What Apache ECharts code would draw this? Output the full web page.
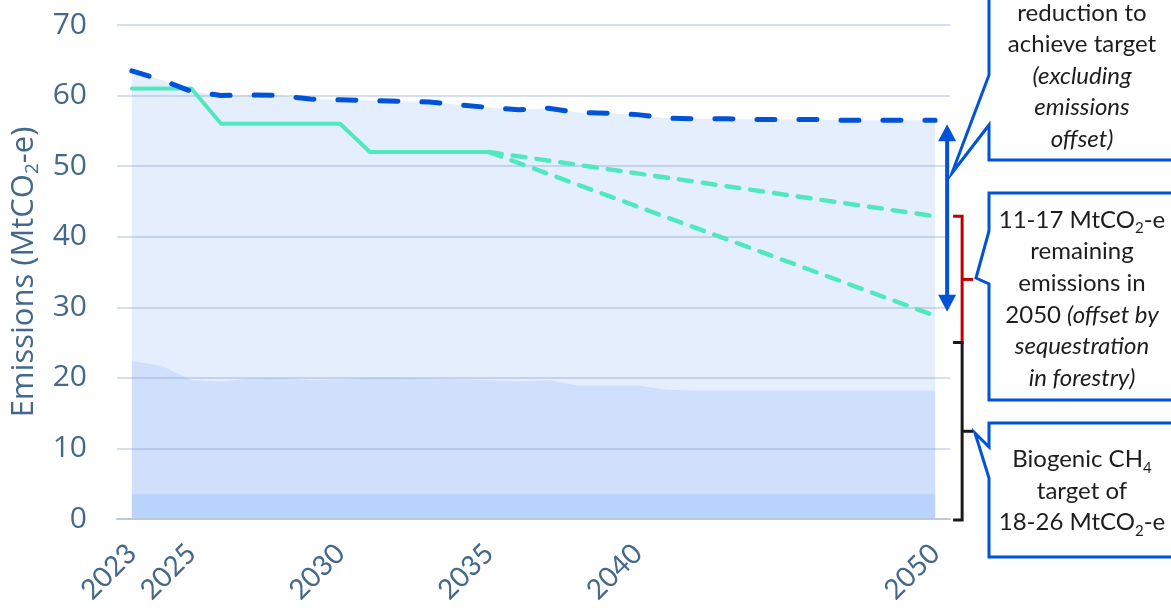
<!DOCTYPE html>
<html>
<head>
    <meta charset="UTF-8">
    <title>Emissions pathway to 2050</title>
    <script src="https://cdn.jsdelivr.net/npm/echarts@6/dist/echarts.min.js"></script>
    <style>
        html, body {
            margin: 0;
            padding: 0;
            background: #fff;
        }

        #chart {
            width: 1171px;
            height: 608px;
        }
    </style>
</head>
<body>
    <div id="chart"></div>

    <script>
        // categories
        const years = ['2023', '2024', '2025', '2026', '2027', '2028', '2029', '2030', '2031', '2032',
            '2033', '2034', '2035', '2036', '2037', '2038', '2039', '2040', '2041', '2042',
            '2043', '2044', '2045', '2046', '2047', '2048', '2049', '2050'];
        const labelYears = ['2023', '2025', '2030', '2035', '2040', '2050'];

        // projected emissions (blue dashed line and light area)
        const projected = [63.5, 62.2, 60.6, 60.0, 60.1, 60.0, 59.5, 59.4, 59.3, 59.2,
            59.1, 58.7, 58.3, 58.0, 58.2, 57.6, 57.5, 57.3, 56.8, 56.7,
            56.7, 56.6, 56.6, 56.6, 56.5, 56.5, 56.5, 56.5];
        // biogenic methane band (middle area)
        const biogenic = [22.4, 21.7, 19.7, 19.5, 19.9, 20.0, 19.7, 19.8, 20.0, 20.0,
            19.9, 19.8, 19.7, 19.5, 19.7, 18.9, 18.9, 18.9, 18.3, 18.2,
            18.2, 18.2, 18.2, 18.2, 18.2, 18.2, 18.2, 18.2];
        // bottom band
        const baseBand = [3.5, 3.5, 3.5, 3.5, 3.5, 3.5, 3.5, 3.5, 3.5, 3.5,
            3.5, 3.5, 3.5, 3.5, 3.5, 3.5, 3.5, 3.5, 3.5, 3.5,
            3.5, 3.5, 3.5, 3.5, 3.5, 3.5, 3.5, 3.5];
        // emissions budgets (green solid) and the two pathways after 2035 (green dashed)
        const budgets = [61, 61, 61, 56, 56, 56, 56, 56, 52, 52, 52, 52, 52,
            null, null, null, null, null, null, null, null, null, null, null, null, null, null, null];
        const pathHigh = [null, null, null, null, null, null, null, null, null, null, null, null, 52,
            null, null, null, null, null, null, null, null, null, null, null, null, null, null, 42.9];
        const pathLow = [null, null, null, null, null, null, null, null, null, null, null, null, 52,
            null, null, null, null, null, null, null, null, null, null, null, null, null, null, 28.8];
        // split between the two brackets at 2050
        const bracketSplit = 25;

        const axisColor = '#44688c';
        const blue = '#0052d9';
        const green = '#52e8bf';
        const textFont = 'Lato, "Open Sans", sans-serif';

        const chart = echarts.init(document.getElementById('chart'));

        const option = {
            animation: false,
            grid: {
                left: 117,
                right: 221,
                top: 25,
                bottom: 89,
                outerBoundsMode: 'none'
            },
            xAxis: {
                type: 'category',
                data: years,
                boundaryGap: true,
                z: 3,
                axisTick: { show: false },
                axisLine: {
                    lineStyle: { color: '#bfc8d5', width: 2 }
                },
                axisLabel: {
                    interval: function (idx, val) {
                        return labelYears.indexOf(val) >= 0;
                    },
                    rotate: 45,
                    margin: 30,
                    color: axisColor,
                    fontSize: 28,
                    fontFamily: textFont
                }
            },
            yAxis: {
                type: 'value',
                min: 0,
                max: 70,
                interval: 10,
                z: 3,
                axisLine: { show: false },
                axisTick: { show: false },
                axisLabel: {
                    margin: 30,
                    color: axisColor,
                    fontSize: 30,
                    fontFamily: '"Open Sans", sans-serif'
                },
                splitLine: {
                    lineStyle: { color: 'rgba(120,150,195,0.3)', width: 2 }
                },
                name: '{n|Emissions (MtCO}{s|2}{n|-e)}',
                nameLocation: 'middle',
                nameGap: 71,
                nameTextStyle: {
                    rich: {
                        n: {
                            fontSize: 31,
                            lineHeight: 36,
                            color: axisColor,
                            fontFamily: '"Open Sans", sans-serif'
                        },
                        s: {
                            fontSize: 19,
                            lineHeight: 19,
                            verticalAlign: 'bottom',
                            color: axisColor,
                            fontFamily: '"Open Sans", sans-serif'
                        }
                    }
                }
            },
            series: [
                {
                    name: 'Projected area',
                    type: 'line',
                    data: projected,
                    symbol: 'none',
                    z: 1,
                    lineStyle: { width: 0 },
                    areaStyle: { color: '#e5eefd', opacity: 1 }
                },
                {
                    name: 'Biogenic',
                    type: 'line',
                    data: biogenic,
                    symbol: 'none',
                    z: 1,
                    lineStyle: { width: 0 },
                    areaStyle: { color: '#d0e0fc', opacity: 1 }
                },
                {
                    name: 'Base',
                    type: 'line',
                    data: baseBand,
                    symbol: 'none',
                    z: 1,
                    lineStyle: { width: 0 },
                    areaStyle: { color: '#b9d3fc', opacity: 1 }
                },
                {
                    name: 'Budgets',
                    type: 'line',
                    data: budgets,
                    symbol: 'none',
                    z: 5,
                    lineStyle: { color: green, width: 4, cap: 'round', join: 'round' }
                },
                {
                    name: 'Pathway high',
                    type: 'line',
                    data: pathHigh,
                    connectNulls: true,
                    symbol: 'none',
                    z: 5,
                    lineStyle: { color: green, width: 4.5, type: [13, 11], cap: 'round' }
                },
                {
                    name: 'Pathway low',
                    type: 'line',
                    data: pathLow,
                    connectNulls: true,
                    symbol: 'none',
                    z: 5,
                    lineStyle: { color: green, width: 4.5, type: [13, 11], cap: 'round' }
                },
                {
                    name: 'Projected',
                    type: 'line',
                    data: projected,
                    symbol: 'none',
                    z: 6,
                    lineStyle: { color: blue, width: 5, type: [18, 24], cap: 'round', join: 'round' }
                }
            ]
        };

        chart.setOption(option);

        // annotations at the right of 2050, placed through the chart's own scales
        const last = years.length - 1;
        const xEnd = chart.convertToPixel({ xAxisIndex: 0 }, years[last]);
        const py = v => chart.convertToPixel({ yAxisIndex: 0 }, v);

        const arrowX = xEnd + 12;
        const arrTop = py(projected[last]) + 4;
        const arrBot = py(pathLow[last]) - 4;
        const bx = xEnd + 27;
        const redTop = py(pathHigh[last]);
        const split = py(bracketSplit);
        const blackBot = py(0) + 1;

        function bracket(top, bot, color) {
            const mid = (top + bot) / 2;
            return [
                {
                    type: 'polyline',
                    shape: { points: [[bx - 9, top], [bx, top], [bx, bot], [bx - 9, bot]] },
                    style: { stroke: color, lineWidth: 3, fill: null },
                    z: 20
                },
                {
                    type: 'line',
                    shape: { x1: bx, y1: mid, x2: bx + 11, y2: mid },
                    style: { stroke: color, lineWidth: 3 },
                    z: 20
                }
            ];
        }

        const subStyle = { fontSize: 15, lineHeight: 15, verticalAlign: 'bottom', fill: '#1d1d1d', fontFamily: textFont };
        function richSet() {
            return {
                r: { fontSize: 24, lineHeight: 31.6, fill: '#1d1d1d', fontFamily: textFont },
                i: { fontSize: 24, lineHeight: 31.6, fill: '#1d1d1d', fontFamily: textFont, fontStyle: 'italic' },
                s: subStyle
            };
        }

        const calloutStyle = { fill: '#fff', stroke: blue, lineWidth: 3 };

        const graphics = [
            // double arrow
            {
                type: 'line',
                shape: { x1: arrowX, y1: arrTop + 14, x2: arrowX, y2: arrBot - 14 },
                style: { stroke: blue, lineWidth: 4 },
                z: 20
            },
            {
                type: 'polygon',
                shape: { points: [[arrowX, arrTop], [arrowX - 9, arrTop + 17], [arrowX + 9, arrTop + 17]] },
                style: { fill: blue },
                z: 20
            },
            {
                type: 'polygon',
                shape: { points: [[arrowX, arrBot], [arrowX - 9, arrBot - 17], [arrowX + 9, arrBot - 17]] },
                style: { fill: blue },
                z: 20
            },
            ...bracket(redTop, split, '#c00000'),
            ...bracket(split, blackBot, '#1a1a1a'),
            // callout boxes
            {
                type: 'polygon',
                shape: { points: [[989, -5], [989, 75], [952, 173], [989, 125], [989, 160], [1180, 160], [1180, -5]] },
                style: calloutStyle,
                z: 21
            },
            {
                type: 'polygon',
                shape: { points: [[989, 193], [989, 231], [976, 278], [989, 284], [989, 400], [1180, 400], [1180, 193]] },
                style: calloutStyle,
                z: 21
            },
            {
                type: 'polygon',
                shape: { points: [[989, 423], [989, 447], [975, 433], [989, 478], [989, 557], [1180, 557], [1180, 423]] },
                style: calloutStyle,
                z: 21
            },
            {
                type: 'text',
                z: 22,
                style: {
                    x: 1082, y: 76, align: 'center', verticalAlign: 'middle',
                    text: '{r|reduction to}\n{r|achieve target}\n{i|(excluding}\n{i|emissions}\n{i|offset)}',
                    rich: richSet()
                }
            },
            {
                type: 'text',
                z: 22,
                style: {
                    x: 1082, y: 299, align: 'center', verticalAlign: 'middle',
                    text: '{r|11-17 MtCO}{s|2}{r|-e}\n{r|remaining}\n{r|emissions in}\n{r|2050 }{i|(offset by}\n{i|sequestration}\n{i|in forestry)}',
                    rich: richSet()
                }
            },
            {
                type: 'text',
                z: 22,
                style: {
                    x: 1082, y: 491, align: 'center', verticalAlign: 'middle',
                    text: '{r|Biogenic CH}{s|4}\n{r|target of}\n{r|18-26 MtCO}{s|2}{r|-e}',
                    rich: richSet()
                }
            }
        ];

        chart.setOption({ graphic: graphics });
    </script>
</body>
</html>
